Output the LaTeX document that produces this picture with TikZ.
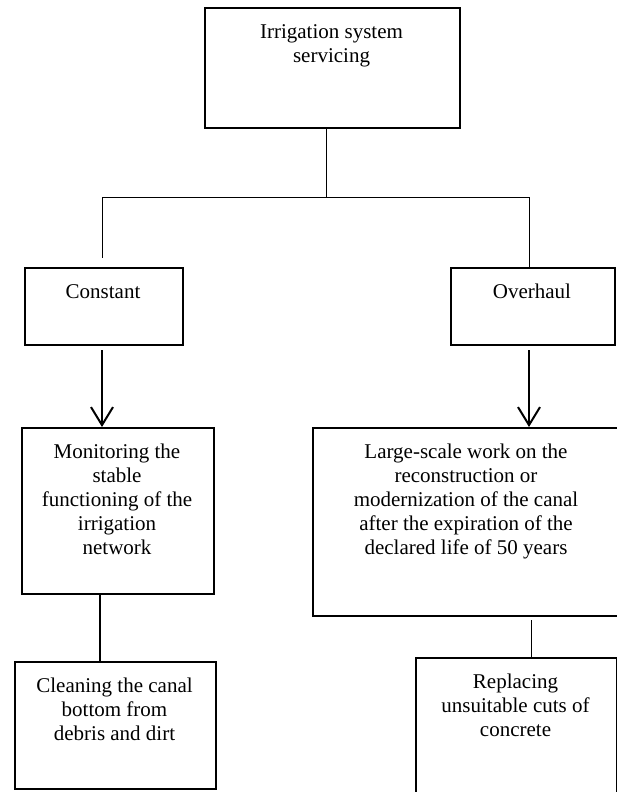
\documentclass[tikz,border=0pt]{standalone}
\usepackage{fontspec}
\setmainfont{Liberation Serif}
\usetikzlibrary{arrows.meta,calc}
\begin{document}
\begin{tikzpicture}[x=1pt,y=-1pt,
  boxshape/.style={draw=black,line width=2pt,inner sep=0pt,anchor=north west},
  txt/.style={anchor=north,inner sep=0pt,align=center,font=\fontsize{21}{24}\selectfont},
  conn/.style={draw=black,line width=1pt},
  connthick/.style={draw=black,line width=1.8pt},
  arr/.style={draw=black,line width=2pt,-{Straight Barb[length=18pt,width=22pt,line width=2pt]}}
]
\useasboundingbox (0,0) rectangle (617,792);

% boxes
\node[boxshape,minimum width=255pt,minimum height=120pt] (top) at (204,7) {};
\node[boxshape,minimum width=158pt,minimum height=77pt] (const) at (24,267) {};
\node[boxshape,minimum width=164pt,minimum height=77pt] (over) at (450,267) {};
\node[boxshape,minimum width=192pt,minimum height=166pt] (mon) at (21,427) {};
\node[boxshape,minimum width=312pt,minimum height=188pt] (large) at (312,427) {};
\node[boxshape,minimum width=201pt,minimum height=127pt] (clean) at (14,661) {};
\node[boxshape,minimum width=201pt,minimum height=145pt] (repl) at (415,657) {};

% texts
\node[txt] (ttop) at (331.5,24) {Irrigation system\\servicing};
\node[txt] (tconst) at (103,284) {Constant};
\node[txt] (tover) at (532,284) {Overhaul};
\node[txt] (tmon) at (117,444) {Monitoring the\\stable\\functioning of the\\irrigation\\network};
\node[txt] (tlarge) at (466,444) {Large-scale work on the\\reconstruction or\\modernization of the canal\\after the expiration of the\\declared life of 50 years};
\node[txt] (tclean) at (114.5,678) {Cleaning the canal\\bottom from\\debris and dirt};
\node[txt] (trepl) at (515.5,674) {Replacing\\unsuitable cuts of\\concrete};

% connector points
\coordinate (hub) at (326,197);
\coordinate (hl) at (102,197);
\coordinate (hr) at (529,197);
\coordinate (cl) at (102,258);
\coordinate (la) at (102,350);
\coordinate (ra) at (529,350);
\coordinate (lx) at (100,593);
\coordinate (rx) at (531,620);

% connectors
\draw[conn] (top.south -| hub) -- (hub);
\draw[conn] (hl) -- (hr);
\draw[conn] (hl) -- (cl);
\draw[conn] (hr) -- (over.north -| hr);
\draw[arr] (la) -- (mon.north -| la);
\draw[arr] (ra) -- (large.north -| ra);
\draw[connthick] (mon.south -| lx) -- (clean.north -| lx);
\draw[conn] (rx) -- (repl.north -| rx);
\end{tikzpicture}
\end{document}
